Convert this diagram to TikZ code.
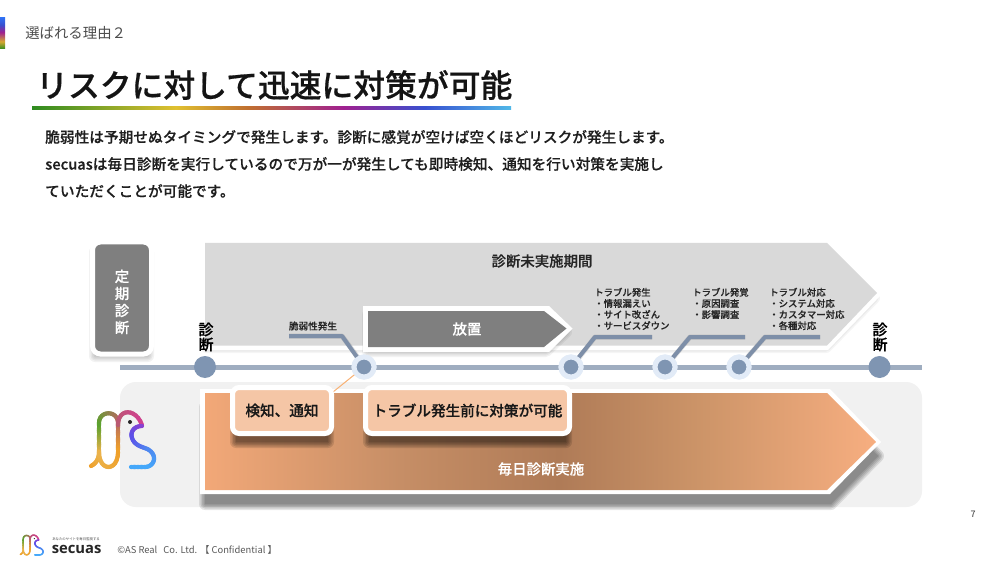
\documentclass[tikz,border=0pt]{standalone}
\usepackage{fontspec}
\setmainfont{Noto Sans CJK JP}
\newfontfamily\medfont{Noto Sans CJK JP Medium}[FakeBold=0.2]
\newfontfamily\strongfont{Noto Sans CJK JP Medium}[FakeBold=0.6]
\newfontfamily\latinbold{Open Sans}[BoldFont={Open Sans Bold}]
\newcommand\pxf[1]{\fontsize{\the\dimexpr #1pt*3/4\relax}{\the\dimexpr #1pt*3/4\relax}\selectfont}
\definecolor{dotblue}{HTML}{7F95B2}
\definecolor{linegrey}{HTML}{9FADC0}
\definecolor{leaderblue}{HTML}{7E8FA8}
\definecolor{halo}{HTML}{E2EBF7}
\definecolor{greyfill}{HTML}{D9D9D9}
\definecolor{darkfill}{HTML}{7F7F7F}
\definecolor{panelgrey}{HTML}{F1F1F1}
\definecolor{peach}{HTML}{F5C6A6}
\definecolor{ra}{HTML}{2E8B20}\definecolor{rb}{HTML}{E0C030}\definecolor{rc}{HTML}{C07030}\definecolor{rd}{HTML}{A02090}\definecolor{re}{HTML}{3850D0}\definecolor{rf}{HTML}{50B8E8}
\pgfdeclarehorizontalshading{rainbowline}{100bp}{color(0bp)=(ra); color(25bp)=(ra); color(40bp)=(rb); color(47.5bp)=(rc); color(57.5bp)=(rd); color(66bp)=(re); color(75bp)=(rf); color(100bp)=(rf)}
\pgfdeclareverticalshading{rainbowbar}{100bp}{color(0bp)=(ra); color(25bp)=(ra); color(37bp)=(rb!70!rc); color(52bp)=(rd); color(64bp)=(re); color(75bp)=(rf!60!blue); color(100bp)=(rf!60!blue)}
\definecolor{fa}{HTML}{F2A878}\definecolor{fb}{HTML}{C68E66}\definecolor{fc}{HTML}{AF7B57}\definecolor{fd}{HTML}{CC9468}\definecolor{fe}{HTML}{F7AE80}
\pgfdeclarehorizontalshading{orangeflow}{100bp}{color(0bp)=(fa); color(25bp)=(fa); color(39.5bp)=(fb); color(51.4bp)=(fc); color(61.8bp)=(fd); color(75bp)=(fe); color(100bp)=(fe)}
\tikzset{
  x=0.75pt,y=-0.75pt,
  px/.style={line width=#1*0.75pt},
  timeline/.style={draw=linegrey,px=5},
  mainlbl/.style={inner sep=0pt,outer sep=0pt,font=\strongfont\pxf{15},align=center,black},
  smalllbl/.style={inner sep=0pt,anchor=north west,align=left,font=\medfont\pxf{9.4},text=black!85},
  bodytext/.style={inner sep=0pt,anchor=west,font=\medfont\pxf{14.68},text=black!88},
  bigdot/.style={circle,fill=dotblue,minimum size=22*0.75pt,inner sep=0pt,outer sep=0pt},
  halodot/.style={circle,fill=dotblue,draw=halo,px=5,minimum size=20*0.75pt,inner sep=0pt,outer sep=0pt},
  leader/.style={draw=leaderblue,px=4,line join=round},
  leadershadow/.style={draw=black,opacity=.12,px=5,line join=round},
  peachbox/.style={draw=white,px=5,fill=peach,rounded corners=5pt,inner sep=0pt,outer sep=0pt,font=\strongfont\pxf{14.6},text=black!90},
  whitelbl/.style={inner sep=0pt,text=white,font=\medfont\pxf{14.4}},
}
% soft shadow: path, shift, opacity of each layer
\newcommand\softshadow[3]{\foreach \w in {12,9,6,3,0.1}{\begin{scope}[transparency group,opacity=#3,shift={#2}]\filldraw[black,line width=\w*0.75pt,line join=round] #1 -- cycle;\end{scope}}}
% colour-graded curve
\newcommand\gradcurve[7]{%
  \path #1 .. controls #2 and #3 .. #4 \foreach \i in {0,...,12}{coordinate[pos=\i/12] (gc\i)};
  \foreach \i [evaluate=\i as \j using int(\i+1), evaluate=\i as \p using int(100-\i*100/11)] in {0,...,11}{%
    \draw[line width=#7*0.75pt,line cap=round,draw={#5!\p!#6}] (gc\i) -- (gc\j);}}
\definecolor{la}{HTML}{EFA02A}\definecolor{lb}{HTML}{EBB24A}\definecolor{lc}{HTML}{5DA12F}\definecolor{ld}{HTML}{B46A60}
\definecolor{le}{HTML}{B85A70}\definecolor{lf}{HTML}{D0408F}\definecolor{lg}{HTML}{8A40D0}\definecolor{lh}{HTML}{5C50E8}\definecolor{li}{HTML}{4E88F0}\definecolor{lj}{HTML}{45A8FA}
\newcommand\birdlogo[1]{%
  \gradcurve{(91,466)}{(95,464)}{(99,460)}{(99,452)}{la}{lb}{#1}
  \gradcurve{(99,452)}{(99,442)}{(99,433)}{(99,423)}{lb}{lc}{#1}
  \gradcurve{(118,452)}{(118,472)}{(99,472)}{(99,452)}{la}{lb}{#1}
  \gradcurve{(118,423)}{(118,433)}{(118,442)}{(118,452)}{ld}{la}{#1}
  \gradcurve{(99,423)}{(99,410)}{(118,410)}{(118,423)}{lc}{ld}{#1}
  \gradcurve{(118,425)}{(118,408)}{(136,408)}{(142,425)}{le}{lf}{#1}
  \gradcurve{(142,426)}{(134,426)}{(130,432)}{(132,438)}{lg}{lh}{#1}
  \gradcurve{(132,438)}{(135,447)}{(145,447)}{(149,450)}{lh}{li}{#1}
  \gradcurve{(149,450)}{(158,456)}{(154,467)}{(145,467)}{li}{lj}{#1}
  \gradcurve{(145,467)}{(140,467)}{(136,467)}{(131,467)}{lj}{lj}{#1}
  \fill[black!85] (130,422) circle (2);
}
\begin{document}
\begin{tikzpicture}
\useasboundingbox (0,0) rectangle (1000,563);
\fill[white] (0,0) rectangle (1000,563);
% header
\shade[shading=rainbowbar] (0,18) rectangle (5,49);
\node[inner sep=0pt,anchor=west,font=\pxf{14.4},text=black!70] (hdr) at (25,33) {選ばれる理由２};
\node[inner sep=0pt,anchor=west,font=\strongfont\pxf{31.8},text=black!92] (title) at (36,85) {リスクに対して迅速に対策が可能};
\shade[shading=rainbowline] (32,106.5) rectangle (511,110);
\node[bodytext] (b1) at (45,137) {脆弱性は予期せぬタイミングで発生します。診断に感覚が空けば空くほどリスクが発生します。};
\node[bodytext] (b2) at (45,164) {secuasは毎日診断を実行しているので万が一が発生しても即時検知、通知を行い対策を実施し};
\node[bodytext] (b3) at (45,191) {ていただくことが可能です。};
% regular check side box
\softshadow{(95,250) -- (148,250) -- (148,354) -- (95,354)}{(0,2)}{.05}
\node[draw=white,px=5,fill=darkfill,rounded corners=6pt,minimum width=59*0.75pt,minimum height=112*0.75pt,inner sep=0pt] (teiki) at (122,298) {};
\node[inner sep=0pt,font=\medfont\pxf{14.5},text=white,align=center] (teikilbl) at (122,302) {定\\[1.9pt]期\\[1.9pt]診\\[1.9pt]断};
% big grey arrow
\softshadow{(206,248) -- (826,248) -- (874,295) -- (826,344) -- (206,344)}{(0,3)}{.04}
\fill[white] (200,238) -- (828,238) -- (883,293) -- (828,350) -- (200,350) -- cycle;
\fill[greyfill] (205,243) -- (827,243) -- (877,293) -- (827,345.5) -- (205,345.5) -- cycle;
\node[inner sep=0pt,font=\medfont\pxf{14.4},text=black!85] (mijisshi) at (542,261) {診断未実施期間};
% dark arrow
\softshadow{(368,312) -- (546,312) -- (566,329) -- (546,348) -- (368,348)}{(0,3)}{.05}
\fill[white] (363,306) -- (549,306) -- (572.5,328.5) -- (549,352) -- (363,352) -- cycle;
\fill[darkfill] (368,311) -- (544,311) -- (566.5,328.5) -- (544,347) -- (368,347) -- cycle;
\node[whitelbl] (houchi) at (467,329) {放置};
% lower panel
\fill[panelgrey,rounded corners=12pt] (120,382) rectangle (922,507);
% timeline
\coordinate (tlstart) at (120,367);
\coordinate (tlend) at (922,367);
\draw[timeline] (tlstart) -- (tlend);
% dots
\node[bigdot] (d0) at (205,367) {};
\node[halodot] (d1) at (364,367) {};
\node[halodot] (d2) at (571,367) {};
\node[halodot] (d3) at (665,367) {};
\node[halodot] (d4) at (739,367) {};
\node[bigdot] (d5) at (879.5,367) {};
% leaders
\coordinate (l1a) at (289,336);\coordinate (l1b) at (342,336);
\coordinate (l2a) at (652,337);\coordinate (l2b) at (595,337);
\coordinate (l3a) at (745,337);\coordinate (l3b) at (690,337);
\coordinate (l4a) at (820,337);\coordinate (l4b) at (765,337);
\begin{scope}[shift={(1,2)}]
\draw[leadershadow] (l1a) -- (l1b) -- (358,357);
\draw[leadershadow] (l2a) -- (l2b) -- (577,357);
\draw[leadershadow] (l3a) -- (l3b) -- (671,357);
\draw[leadershadow] (l4a) -- (l4b) -- (745,357);
\end{scope}
\draw[leader] (l1a) -- (l1b) -- (d1);
\draw[leader] (l2a) -- (l2b) -- (d2);
\draw[leader] (l3a) -- (l3b) -- (d3);
\draw[leader] (l4a) -- (l4b) -- (d4);
\node[halodot] at (d2) {};
\node[halodot] at (d3) {};
\node[halodot] at (d4) {};
% labels
\node[mainlbl] (shin0) at (206,337) {診\\断};
\node[mainlbl] (shin5) at (880,337) {診\\断};
\node[inner sep=0pt,font=\medfont\pxf{9.6},text=black!85] (zei) at (313,326) {脆弱性発生};
\node[smalllbl] (t1) at (594,287.5) {トラブル発生\\[1.3pt]・情報漏えい\\[1.3pt]・サイト改ざん\\[1.3pt]・サービスダウン};
\node[smalllbl] (t2) at (692,287.5) {トラブル発覚\\[1.3pt]・原因調査\\[1.3pt]・影響調査};
\node[smalllbl] (t3) at (769,287.5) {トラブル対応\\[1.3pt]・システム対応\\[1.3pt]・カスタマー対応\\[1.3pt]・各種対応};
% orange arrow
\softshadow{(203,393) -- (829,393) -- (876,442) -- (829,490) -- (203,490)}{(2,14)}{.1}
\fill[white] (200,389) -- (830,389) -- (881,442) -- (830,494) -- (200,494) -- cycle;
\shade[shading=orangeflow] (205,393) -- (827,393) -- (876,442) -- (827,490) -- (205,490) -- cycle;
\node[whitelbl] (mainichi) at (541,469) {毎日診断実施};
% peach boxes
\softshadow{(236,394) -- (328,394) -- (328,434) -- (236,434)}{(0,8)}{.12}
\softshadow{(369,394) -- (566,394) -- (566,434) -- (369,434)}{(0,8)}{.12}
\draw[peach!70!orange,px=1] (d1) -- (333,392);
\node[halodot] at (d1) {};
\node[peachbox,minimum width=99*0.75pt,minimum height=46*0.75pt] (box1) at (282,410.5) {検知、通知};
\node[peachbox,minimum width=204*0.75pt,minimum height=46*0.75pt] (box2) at (467.5,410.5) {トラブル発生前に対策が可能};
% logos
\birdlogo{4.2}
\begin{scope}[shift={(-12.4,386.7)},scale=.36]
\birdlogo{1.5}
\end{scope}
% footer
\node[inner sep=0pt,anchor=west,font=\pxf{3.4},text=black!70] (tag) at (52,539) {あなたのサイトを毎日監視する};
\node[inner sep=0pt,anchor=west,font=\latinbold\bfseries\pxf{14.8},text=black!85] (brand) at (51.5,549) {secuas};
\node[inner sep=0pt,anchor=west,font=\pxf{9.4},text=black!65] (copy) at (117,550) {©AS Real\hspace{3pt} Co. Ltd. 【 Confidential 】};
\node[inner sep=0pt,font=\pxf{9},text=black!80] (pg) at (973,514) {7};
\end{tikzpicture}
\end{document}
